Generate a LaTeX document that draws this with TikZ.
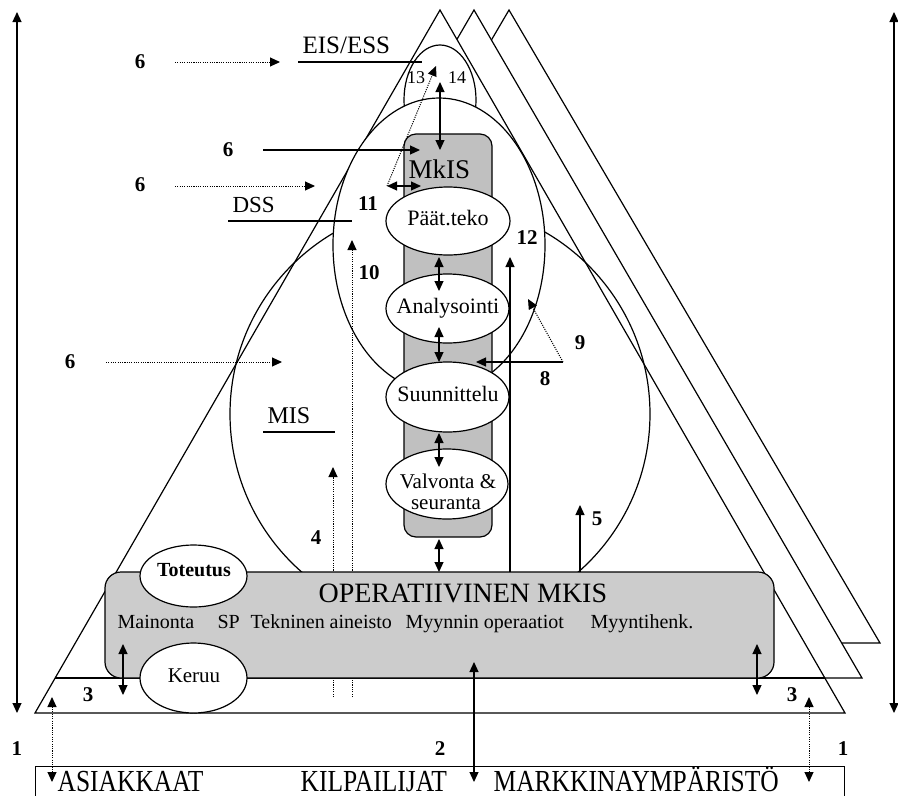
\documentclass[tikz,border=0pt]{standalone}
\usepackage{fontspec}
\setmainfont{Liberation Serif}
\usetikzlibrary{arrows.meta,shapes.geometric}
\definecolor{mkgray}{RGB}{192,192,192}
\definecolor{opgray}{RGB}{204,204,204}
\begin{document}
\begin{tikzpicture}[x=1pt,y=-1pt,line width=1.2pt,
  >={Triangle[length=10pt,width=9pt]},
  dots/.style={dash pattern=on 1.1pt off 1.2pt,line width=1pt},
  num/.style={inner sep=0,font=\fontsize{21}{21}\selectfont\bfseries},
  smallnum/.style={inner sep=0,font=\fontsize{18}{18}\selectfont},
  oval/.style={draw,ellipse,fill=white,inner sep=0},
  txt/.style={inner sep=0,anchor=base},
  ltxt/.style={inner sep=0,anchor=base west},
  gbox/.style={draw,inner sep=0,rounded corners=#1},
  big/.style={font=\fontsize{25.5}{25.5}\selectfont}]
\useasboundingbox (0,0) rectangle (898,796);

% stacked pyramids, back to front
\draw[fill=white] (509,10) -- (880,643) -- (138,643) -- cycle;
\draw[fill=white] (474,10) -- (862,678) -- (86,678) -- cycle;
\draw[fill=white] (440,10) -- (845,713) -- (35,713) -- cycle;
\draw (55,678) -- (825,678);

% level axis arrows
\coordinate (lt) at (17,12);   \coordinate (lb) at (17,713);
\coordinate (rt) at (894,12);  \coordinate (rb) at (894,713);
\draw[<->] (lt) -- (lb);
\draw[<->] (rt) -- (rb);

% system levels
\node[draw,circle,minimum size=420pt,inner sep=0] (mis) at (440,414) {};
\node[draw,ellipse,minimum width=72pt,minimum height=110pt,inner sep=0] (eis) at (440,100) {};
\node[oval,minimum width=212pt,minimum height=294pt] (dss) at (439,245) {};

% dotted links passing behind the operative box
\coordinate (d10a) at (352,697); \coordinate (d10b) at (352,240);
\coordinate (d4a) at (333,697);  \coordinate (d4b) at (333,467);
\draw[->,dots] (d10a) -- (d10b);
\draw[->,dots] (d4a) -- (d4b);

% MkIS column
\node[gbox=12pt,fill=mkgray,minimum width=88pt,minimum height=403pt] (mkis) at (448,335.5) {};
\node[ltxt,font=\fontsize{27}{27}\selectfont] (mkislbl) at (408,178) {MkIS};
\node[oval,minimum width=124pt,minimum height=68pt] (paat) at (448,221) {};
\node[oval,minimum width=123pt,minimum height=69pt] (anal) at (447.5,308.5) {};
\node[oval,minimum width=123pt,minimum height=70pt] (suun) at (447.5,397) {};
\node[oval,minimum width=122pt,minimum height=70pt] (valv) at (447,484) {};
\node[txt,font=\fontsize{22}{22}\selectfont] (paattxt) at (448,225) {Päät.teko};
\node[txt,font=\fontsize{22}{22}\selectfont] (analtxt) at (448,313) {Analysointi};
\node[txt,font=\fontsize{22}{22}\selectfont] (suuntxt) at (448,401) {Suunnittelu};
\node[txt,font=\fontsize{21}{21}\selectfont] (valvtxt1) at (448,488) {Valvonta \&};
\node[txt,font=\fontsize{21}{21}\selectfont] (valvtxt2) at (446,509) {seuranta};

% operative MkIS
\node[gbox=16pt,fill=opgray,minimum width=669pt,minimum height=106pt] (op) at (439.5,625) {};
\node[ltxt,font=\fontsize{28}{28}\selectfont] (optxt) at (318,602) {OPERATIIVINEN MKIS};
\begin{scope}[every node/.style={ltxt,font=\fontsize{20}{20}\selectfont}]
  \node (op1) at (117,628) {Mainonta};
  \node (op2) at (217,628) {SP};
  \node (op3) at (250,628) {Tekninen aineisto};
  \node (op4) at (405,628) {Myynnin operaatiot};
  \node (op5) at (590,628) {Myyntihenk.};
\end{scope}
\node[oval,minimum width=107pt,minimum height=62pt] (tot) at (193.5,576) {};
\node[oval,minimum width=107pt,minimum height=70pt] (ker) at (193.5,678) {};
\node[txt,font=\fontsize{20}{20}\selectfont\bfseries] (tottxt) at (194,576) {Toteutus};
\node[txt,font=\fontsize{21}{21}\selectfont] (kertxt) at (194,682) {Keruu};

% market environment
\node[draw,inner sep=0,anchor=north west,minimum width=809pt,minimum height=40pt] (market) at (35,766) {};
\node[ltxt,big] (asi) at (57,791) {\scalebox{1}[1.2]{ASIAKKAAT}};
\node[ltxt,big] (kil) at (300,791) {\scalebox{1}[1.2]{KILPAILIJAT}};
\node[ltxt,big] (mar) at (493,791) {\scalebox{1}[1.2]{MARKKINAYMPÄRISTÖ}};

% level titles
\node[ltxt,font=\fontsize{25}{25}\selectfont] (eistxt) at (302,53) {EIS/ESS};
\node[ltxt,font=\fontsize{23}{23}\selectfont] (dsstxt) at (232,212) {DSS};
\node[ltxt,font=\fontsize{24}{24}\selectfont] (mistxt) at (267,423) {MIS};
\draw (298,62) -- (422,62);
\draw (228,221) -- (352,221);
\draw (263,432) -- (335,432);

% information flows
\coordinate (e6a) at (175,62);  \coordinate (e6b) at (280,62);
\coordinate (m6a) at (263,150); \coordinate (m6b) at (420,150);
\coordinate (s6a) at (175,186); \coordinate (s6b) at (315,186);
\coordinate (i6a) at (106,362); \coordinate (i6b) at (282,362);
\draw[->,dots] (e6a) -- (e6b);
\draw[->] (m6a) -- (m6b);
\draw[->,dots] (s6a) -- (s6b);
\draw[->,dots] (i6a) -- (i6b);

\coordinate (c14a) at (440,82);  \coordinate (c14b) at (440,150);
\coordinate (c11a) at (387,186); \coordinate (c11b) at (421,186);
\coordinate (c13b) at (436,66);
\draw[<->] (c14a) -- (c14b);
\draw[<->] (c11a) -- (c11b);
\draw[->,dots] (c11a) -- (c13b);

\coordinate (k1a) at (439,257); \coordinate (k1b) at (439,291);
\coordinate (k2a) at (439,327); \coordinate (k2b) at (439,362);
\coordinate (k3a) at (439,433); \coordinate (k3b) at (439,467);
\coordinate (k4a) at (439,539); \coordinate (k4b) at (439,572);
\draw[<->] (k1a) -- (k1b);
\draw[<->] (k2a) -- (k2b);
\draw[<->] (k3a) -- (k3b);
\draw[<->] (k4a) -- (k4b);

\coordinate (f12a) at (510,572); \coordinate (f12b) at (510,257);
\coordinate (f5a) at (580,572);  \coordinate (f5b) at (580,505);
\coordinate (f8a) at (563,362);  \coordinate (f8b) at (476,362);
\coordinate (f9b) at (528,299);
\draw[->] (f12a) -- (f12b);
\draw[->] (f5a) -- (f5b);
\draw[->] (f8a) -- (f8b);
\draw[->,dots] (f8a) -- (f9b);

\coordinate (g3la) at (123,644); \coordinate (g3lb) at (123,695);
\coordinate (g3ra) at (757,644); \coordinate (g3rb) at (757,695);
\coordinate (g1la) at (52,697);  \coordinate (g1lb) at (52,782);
\coordinate (g1ra) at (809,697); \coordinate (g1rb) at (809,782);
\coordinate (g2a) at (474,662);  \coordinate (g2b) at (474,782);
\draw[<->] (g3la) -- (g3lb);
\draw[<->] (g3ra) -- (g3rb);
\draw[<->,dots] (g1la) -- (g1lb);
\draw[<->,dots] (g1ra) -- (g1rb);
\draw[<->] (g2a) -- (g2b);

% flow numbers
\node[num] (n6e) at (140,62) {6};
\node[num] (n6m) at (228,150) {6};
\node[num] (n6s) at (140,185) {6};
\node[num] (n6i) at (70,362) {6};
\node[num] (n11) at (368,204) {11};
\node[num] (n10) at (369,273) {10};
\node[num] (n12) at (527,238) {12};
\node[smallnum] (n13) at (416,78) {13};
\node[smallnum] (n14) at (457,78) {14};
\node[num] (n9) at (580,343) {9};
\node[num] (n8) at (545,379) {8};
\node[num] (n5) at (597,519) {5};
\node[num] (n4) at (316,538) {4};
\node[num] (n3l) at (88,695) {3};
\node[num] (n3r) at (792,695) {3};
\node[num] (n1l) at (17,749) {1};
\node[num] (n1r) at (843,749) {1};
\node[num] (n2) at (440,749) {2};
\end{tikzpicture}
\end{document}
